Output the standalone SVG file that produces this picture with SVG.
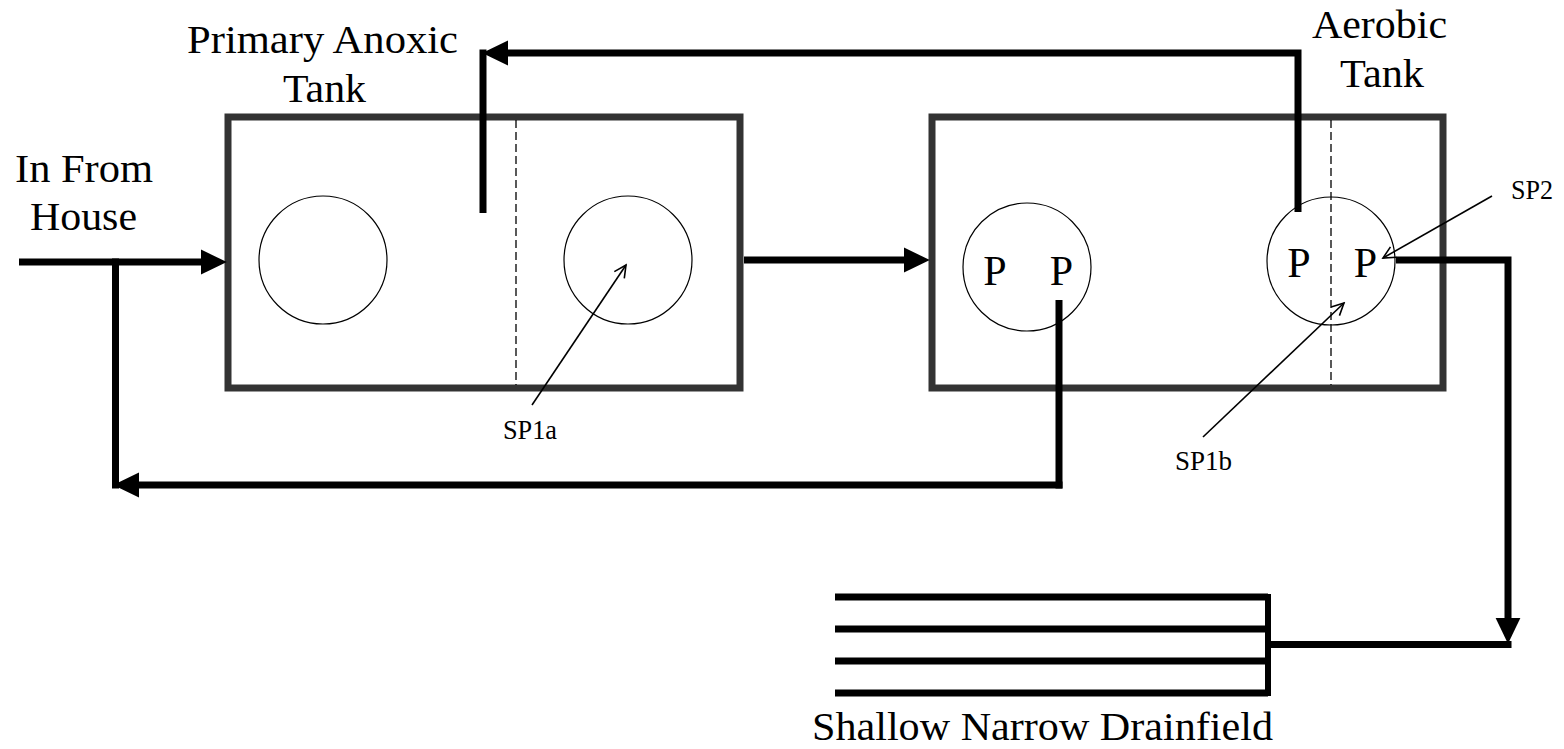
<svg xmlns="http://www.w3.org/2000/svg" width="1564" height="749" viewBox="0 0 1564 749">
<style>
  .tank { fill: none; stroke: #333; stroke-width: 7; }
  .div { stroke: #000; stroke-width: 1.3; stroke-dasharray: 8 4; fill: none; }
  .circ { fill: none; stroke: #000; stroke-width: 1.2; }
  .pipe { fill: none; stroke: #000; stroke-width: 7; stroke-linejoin: miter; }
  .thin { fill: none; stroke: #000; stroke-width: 1.6; }
  .lbl { font-family: "Liberation Serif", "Times New Roman", serif; font-size: 41px; fill: #000; }
  .pl { font-family: "Liberation Serif", "Times New Roman", serif; font-size: 42px; fill: #000; text-anchor: middle; }
  .sp { font-family: "Liberation Serif", "Times New Roman", serif; font-size: 27px; fill: #000; }
</style>
<defs>
  <marker id="ah" markerUnits="userSpaceOnUse" markerWidth="26" markerHeight="26" viewBox="0 0 24 24" refX="14" refY="12" orient="auto">
    <path d="M0,0.5 L24,12 L0,23.5 Z" fill="#000"/>
  </marker>
  <marker id="oh" markerUnits="userSpaceOnUse" markerWidth="16" markerHeight="16" viewBox="0 0 16 16" refX="14" refY="8" orient="auto">
    <path d="M2,2 L14,8 L2,14" fill="none" stroke="#000" stroke-width="1.6"/>
  </marker>
</defs>
<rect width="1564" height="749" fill="#fff"/>

<g id="anoxic-tank">
  <rect class="tank" x="228" y="117" width="512" height="271"/>
  <line class="div" x1="516" y1="120" x2="516" y2="385"/>
  <circle class="circ" cx="323" cy="260" r="64"/>
  <circle class="circ" cx="628" cy="260" r="64"/>
  <text class="lbl" x="187" y="53" textLength="271" lengthAdjust="spacingAndGlyphs">Primary Anoxic</text>
  <text class="lbl" x="283" y="102" textLength="83" lengthAdjust="spacingAndGlyphs">Tank</text>
</g>

<g id="aerobic-tank">
  <rect class="tank" x="932" y="117" width="511" height="271"/>
  <line class="div" x1="1331" y1="120" x2="1331" y2="385"/>
  <circle class="circ" cx="1027" cy="267" r="64"/>
  <circle class="circ" cx="1331" cy="261" r="64"/>
  <text class="pl" x="995" y="285">P</text>
  <text class="pl" x="1061.5" y="285">P</text>
  <text class="pl" x="1299" y="277">P</text>
  <text class="pl" x="1365.5" y="277">P</text>
  <text class="lbl" x="1312" y="38" textLength="135" lengthAdjust="spacingAndGlyphs">Aerobic</text>
  <text class="lbl" x="1340" y="87" textLength="84" lengthAdjust="spacingAndGlyphs">Tank</text>
</g>

<g id="house">
  <text class="lbl" x="15" y="182" textLength="138" lengthAdjust="spacingAndGlyphs">In From</text>
  <text class="lbl" x="30" y="230" textLength="107" lengthAdjust="spacingAndGlyphs">House</text>
</g>

<g id="drainfield">
  <path class="pipe" d="M835,597 H1268 M835,629 H1268 M835,661 H1268 M835,693 H1268"/>
  <line x1="1268" y1="594" x2="1268" y2="696" stroke="#000" stroke-width="6"/>
  <text class="lbl" x="812" y="740" textLength="461" lengthAdjust="spacingAndGlyphs">Shallow Narrow Drainfield</text>
</g>

<g id="sample-points">
  <text class="sp" x="503" y="439" textLength="54" lengthAdjust="spacingAndGlyphs">SP1a</text>
  <text class="sp" x="1175" y="470" textLength="57" lengthAdjust="spacingAndGlyphs">SP1b</text>
  <text class="sp" x="1511" y="199" textLength="42" lengthAdjust="spacingAndGlyphs">SP2</text>
</g>

<g id="connectors">
  <path class="pipe" d="M19,262 H216" marker-end="url(#ah)"/>
  <path class="pipe" d="M115.5,258.5 V488.5"/>
  <path class="pipe" d="M1059,300 V488.5"/>
  <path class="pipe" d="M1062.5,485 H124" marker-end="url(#ah)"/>
  <path class="pipe" d="M744,260 H919" marker-end="url(#ah)"/>
  <path class="pipe" d="M1298,212 V53 H493" marker-end="url(#ah)"/>
  <path class="pipe" d="M483,49.5 V213"/>
  <path class="pipe" d="M1396,260 H1508 V633" marker-end="url(#ah)"/>
  <path class="pipe" d="M1268,644.5 H1511.5"/>
  <line class="thin" x1="532" y1="405" x2="626" y2="265" marker-end="url(#oh)"/>
  <line class="thin" x1="1203" y1="437" x2="1344" y2="303" marker-end="url(#oh)"/>
  <line class="thin" x1="1492" y1="196" x2="1383" y2="258" marker-end="url(#oh)"/>
</g>
</svg>
